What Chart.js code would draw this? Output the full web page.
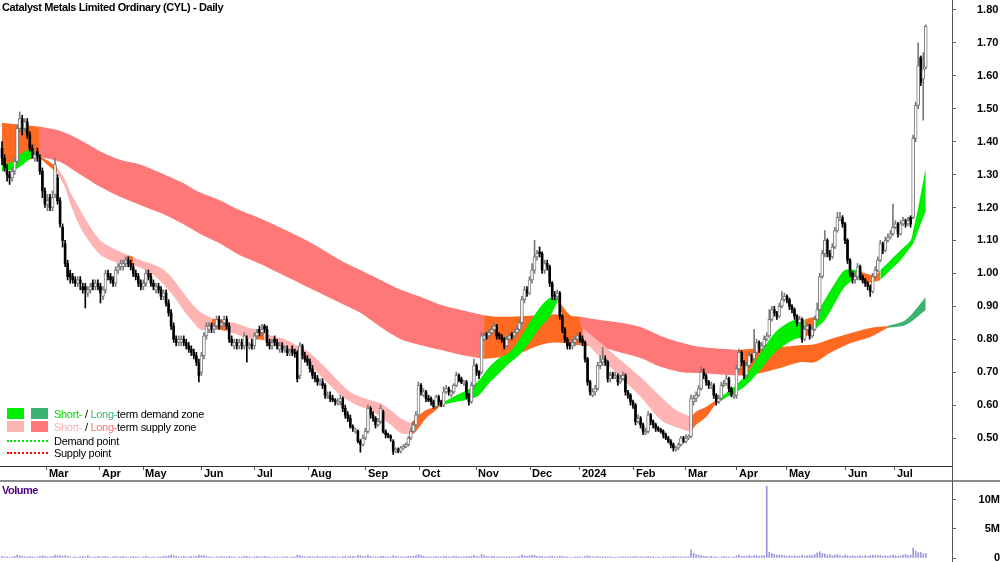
<!DOCTYPE html>
<html><head><meta charset="utf-8">
<script src="https://cdn.jsdelivr.net/npm/chart.js@4.4.0/dist/chart.umd.min.js"></script>
<style>
html,body{margin:0;padding:0;background:#fff;}
#wrap{position:relative;width:1000px;height:562px;overflow:hidden;font-family:"Liberation Sans",Arial,sans-serif;}
canvas{position:absolute;left:0;}
#c1{top:0;}
#c2{top:482px;}
.t{position:absolute;white-space:nowrap;line-height:14px;}
.lg{font-size:11px;letter-spacing:-0.3px;color:#000;}
.bx{position:absolute;width:17px;height:11px;}
.dl{position:absolute;left:7px;width:41px;height:0;}
</style></head>
<body><div id="wrap">
<canvas id="c1" width="1000" height="482"></canvas>
<canvas id="c2" width="1000" height="80"></canvas>
<div class="t" style="left:2px;top:0px;font-weight:bold;font-size:11px;letter-spacing:-0.4px;">Catalyst Metals Limited Ordinary (CYL) - Daily</div>
<div class="bx" style="left:7px;top:408px;background:#00ee00"></div>
<div class="bx" style="left:31px;top:408px;background:#3cb371"></div>
<div class="t lg" style="left:54px;top:407px;"><span style="color:#00dd00">Short-</span> / <span style="color:#3cb371">Long-</span>term demand zone</div>
<div class="bx" style="left:7px;top:421px;background:#ffb4b4"></div>
<div class="bx" style="left:31px;top:421px;background:#ff7878"></div>
<div class="t lg" style="left:54px;top:420px;"><span style="color:#ffb0b0">Short-</span> / <span style="color:#ff7070">Long-</span>term supply zone</div>
<div class="dl" style="top:440px;border-top:2px dotted #00dd00"></div>
<div class="t lg" style="left:54px;top:434px;">Demand point</div>
<div class="dl" style="top:452px;border-top:2px dotted #ff0000"></div>
<div class="t lg" style="left:54px;top:446px;">Supply point</div>
<div class="t" style="left:2px;top:483px;font-weight:bold;font-size:11px;letter-spacing:-0.5px;color:#4b0082;">Volume</div>
</div>
<script>
// ---- price data (cents), one entry per trading day ----
const opens = [
138,135,131,130,129,131,134,144,147,144,
146,142,138,135,137,135,131,125,121,123,
120,124,129,122,114,109,103,100,99,98,
97,98,96,96,94,95,97,96,97,96,
93,95,100,99,98,97,101,102,102,103,
104,103,102,100,99,97,96,97,100,99,
97,95,96,95,93,94,91,88,84,80,
79,79,80,79,78,77,76,75,73,70,
75,81,83,84,83,84,86,84,85,86,
84,80,78,79,78,79,78,80,77.5,78.5,
78,81,83,82,84,83,79,78,80,79,
77,78,76.5,77,75.5,77,76,76,69,78,
75,74,73,71,69,68,66.5,67,66,62.5,
63,62,61.5,60.5,61,62,59,57,56,53.5,
52,52,49,48,50,52,59,57,56,54,
55,58,52,51,50.5,49,46,46.5,46,47,
47.5,48,50,52,54,57,66,63,64,62,
62,61,59.5,62.5,61,60,64,65,63,64,
66,69,68,66.5,67,63,61,66,72,70,
70,80,81.5,81,82,83,84,81.5,81,80,
78,80,81.5,81,82,83,85,92,95,94,
98,101,105,106.5,106,101,103,102,97,93.5,
93,94,87,83,80,78.5,78,79,80,81,
80,79,74,67,63,64,65,72,73,74,
73,68,69.5,68.5,69,67,68,69,64,63,
61,60,55,56,54,51.5,52,57,55,54,
53,52.5,52,51,50,49,48,46.5,47,48,
50,49,50,50.5,61,62,63,65,70,69,
67,65.5,66,63,61,62,66,66.5,68,65,
62.5,63,71,76,73,69,72,75,74,76,
79,77,78,80,81,86,89,88,87,90,
92,93,92,90,89,87,85,86,80,83,
84,81,83,86,89,99,106,110,106,105,
108,113,116.5,117,115,110,104,100,98,99,
102,99,98,97,96,94.5,99,101,104,109,
107,110,111,112,114,115,112,115,116,115,
117,117,141,151,165.5,159,162.5];
const highs = [
140,136,133,131,132,135,145,149,148,147,
147,143,139,137,138,136,132,126,124,124,
125,135,130,123,115,110,104,101,100,99,
99,99,97,97,96,97,98,98,98,97,
96,101,101,100,99,102,103,104,104,105,
105,104,103,101,100,98,98,101,101,100,
98,97,97,96,95,95,92,89,85,81,
81,81,81,80,79,78,77,76,74,76,
82,85,85,85,85,87,87,86,87,87,
85,81,80,80,80,80,82,81,79,80,
82,83,84,84.5,84.5,84,80,80,81,80,
79,79,78,78,77,78,77,76.5,79,78.5,
76,75,74,72,70,69,68,68,66.5,64,
64,63,62,62,63,62.5,60,58,57,54,
53,52.5,49.5,51,53,60,59.5,58,56.5,56,
60,58.5,52.5,51.5,51,49.5,47,47,47.5,48,
48.5,50.5,53,55,58,67,66.5,65,64.5,63,
62.5,61.5,63,63,61.5,65.5,66,65.5,64.5,66.5,
70,69.5,68.5,67.5,67.5,63.5,67,74,72.5,70.5,
82,82,82,83,84,85,84.5,82,81.5,80.5,
81,82,82,83,84,86,93,96,96,99,
103,110,107,108,106.5,104,104,102.5,97.5,94.5,
95,94.5,87.5,83.5,80.5,79,80,81,82,82,
81,79.5,74.5,67.5,65,66,73,75,77.5,75,
73.5,70,70,70,69.5,69,70,69.5,64.5,63.5,
61.5,60.5,57,56.5,54.5,53,58,57.5,55.5,54.5,
53.5,53,52.5,51.5,50.5,49.5,48.5,47.5,48.5,50.5,
50.5,51,51,63,63,64,66,71.5,71,69.5,
67.5,67,66.5,63.5,63,67,67.5,69,68.5,65.5,
64,72,77,76.5,73.5,73,76,75.5,83,80,
79.5,79,81,82,89,90,90,88.5,91,94.5,
94,93.5,92.5,90.5,89.5,87.5,87,86.5,84,85,
84.5,84,87,91,100,107,113,110.5,107,109,
114,118.5,118.5,117.5,115.5,110.5,104.5,100.5,100,103,
102.5,99.5,98.5,97.5,96.5,100,102,105,110,109.5,
111,112,113,121,116,115.5,116,117,116.5,117,
117.5,142,152,170,166,167,175.5];
const lows = [
133,131,128,127,128,130,133,143,142,143,
141,137,135,134,134,130,123,120,119,119,
119,123,121,114,108,102,98,97,97,96,
96,95,94,89.5,93,94,95,95,95,91,
92,94,98,97,96,96,100,101,101,102,
102,101,99,98,96,95,95,96,98,96,
95,94,94,92,92,90,87,83,79,78,
78,78,78,77,76,75,74,72,67,69,
74,80,82,82,82,83,83,83,84,83,
79,78,77,77,77,77,77,73,77,77,
77,80,81,81,82,78,77,77,78,77,
76,76,76,75,75,75,74.5,67,68,74,
73,72,70,68,67,66,66,65,62,62,
61,61,60,60,60,58,56,55,53,52,
51.5,48.5,45.7,47.5,49.5,51.5,56,55,53,53.5,
54.5,51.5,50,50,49,45,45.5,45.5,45.5,46.5,
47,47.5,49.5,51.5,53.5,56.5,63,62.5,61,61,
60,59,59,60,59.5,59.5,63.5,63,62.5,63.5,
65.5,67,66.5,66,62,60,60.5,65.5,69,68,
69.5,79.5,80,80.5,81.5,82.5,80,80,79,77,
77.5,79.5,80,80.5,81.5,82.5,84.5,91,93,93.5,
97,100,104,105,100,100,101,96,92,92,
92,86,82,79,77,77,77,78,79,79,
78,73,66,63,62.5,63,64.5,71,72,72,
67,67,68,68,66,66.5,67.5,63,62,60,
59,54,54.5,53,51,51,51.5,54,53,52,
52,51.5,50,49.5,48.5,47,46,46,46.5,47.5,
48.5,48.5,49.5,50,60,61,62.5,64.5,68,66,
65,65,62,60,60.5,61.5,65.5,66,64,62.5,
62,62,70,72,68,68.5,71.5,73,73.5,75.5,
76,76.5,77.5,79.5,80.5,85.5,87,86,86.5,89.5,
91.5,91,89,88,86,84,84.5,79,79.5,82.5,
80,80.5,82.5,85.5,88.5,98.5,105,105,104,104.5,
107.5,112.5,116,114,109,103,99,97,97,98,
98,97,96,95,93,94,98.5,100.5,103.5,106,
106.5,109.5,110.5,111.5,113.5,111,111.5,114.5,114,114.5,
114,116.5,140,150,157,146.5,162];
const closes = [
135,132,130,129,131,134,144,147,144,146,
142,138,136,136,135,131,125,121,122,120,
123,133,122,115,110,103,99,99,98,97,
98,97,95,95,95,96,96,97,96,94,
95,100,99,98,97,101,102,103,103,104,
103,102,100,99,97,96,97,100,99,97,
96,96,95,93,94,91,88,84,80,79,
80,80,79,78,77,76,75,73,69,75,
81,84,84,83,84,86,84,85,86,84,
80,79,79,78,79,78,81,78,78,78,
81,82,82,83,83,79,78,79,79,78,
78,77,77,76,76,76,75.5,68,78,75,
74,73,71,69,68,67,67,66,63,63,
62,61.5,61,61,62,59,57,56,53.5,53,
52.5,49,48,50,52,59,57,56,54,55,
59,52,51,50.5,50,46,46.5,46,47,47.5,
48,50,52,54,57,66,64,64,62,61.5,
61,59.5,62.5,61,60,64,65,64,64,66,
69,67.5,67,67,63,61,66,72,70,69,
81,81,81,82,83,84,81,81,80,78,
80,81,81,82,83,85,92,95,94,98,
101,105,106,106,101,103,102,97,93,93,
94,87,83,80,78,78,79,80,81,80,
79,74,67,64,64,65,72,73,74,73,
68,69,69,69,67,68,69,64,63,61,
60,55,56,54,52,52,57,55,54,53,
52.5,52,51,50,49,48,47,47,48,50,
49,50,50.5,62,62,63,65,70,69,67,
66,66,63,61,62,66,66.5,68,65,63,
63,71,76,73,69,72,75,74,76,79,
77,78,80,81,86,89,88,87,90,92,
93,92,90,89,87,85,86,80,83,84,
81,83,86,89,99,106,110,106,105,108,
113,117,117,115,110,104,100,98,99,102,
99,98,97,96,94.5,99,101,104,109,107,
110,111,112,114,115,112,115,116,115,116,
115,141,151,163,158,162,175];
// volume, millions of shares
const volumes = [
.3,.2,.2,.1,.2,.3,.5,.4,.3,.2, .2,.3,.2,.1,.2,.3,.4,.3,.2,.2,
.3,.5,.4,.4,.3,.4,.3,.2,.1,.2, .1,.2,.3,.2,.4,.2,.1,.2,.3,.2,
.2,.3,.2,.1,.2,.3,.2,.2,.3,.2, .1,.2,.3,.2,.2,.1,.2,.3,.2,.1,
.2,.1,.2,.2,.3,.3,.4,.5,.4,.3, .2,.2,.3,.2,.2,.3,.2,.3,.5,.4,
.4,.3,.2,.2,.1,.2,.2,.3,.2,.2, .3,.2,.2,.1,.2,.2,.3,.3,.2,.1,
.2,.3,.2,.2,.3,.2,.2,.1,.2,.2, .1,.2,.2,.2,.1,.2,.2,.5,.4,.3,
.2,.2,.3,.2,.2,.3,.2,.2,.3,.2, .2,.3,.2,.2,.1,.3,.3,.2,.3,.3,
.2,.4,.4,.3,.3,.5,.3,.2,.2,.2, .3,.3,.2,.2,.2,.4,.3,.2,.2,.2,
.2,.3,.3,.3,.4,.6,.4,.3,.2,.2, .2,.2,.3,.2,.2,.3,.3,.2,.2,.3,
.3,.2,.2,.2,.3,.3,.3,.4,.3,.2, .6,.4,.3,.2,.3,.3,.2,.2,.2,.2,
.2,.2,.2,.2,.2,.3,.5,.4,.3,.4, .4,.5,.3,.3,.3,.2,.2,.3,.3,.2,
.2,.3,.3,.2,.2,.1,.1,.2,.2,.2, .1,.3,.4,.3,.2,.2,.3,.2,.2,.2,
.2,.2,.1,.1,.2,.2,.2,.2,.2,.2, .2,.3,.2,.2,.2,.2,.3,.2,.2,.1,
.2,.1,.2,.2,.2,.2,.3,.2,.2,.2, .2,.2,.2,1.4,.8,.6,.5,.4,.3,.3,
.2,.3,.2,.2,.1,.2,.3,.2,.2,.1, .2,.4,.5,.3,.3,.3,.4,.3,.4,.4,
.3,.4,.4,12.4,1.0,.8,.6,.5,.5,.5, .4,.3,.4,.3,.4,.3,.3,.5,.3,.4,
.5,.4,.6,.9,1.1,.8,.7,.5,.6,.4, .5,.6,.4,.3,.5,.4,.3,.4,.3,.3,
.4,.3,.4,.3,.4,.5,.4,.4,.5,.3, .4,.3,.4,.5,.4,.3,.4,.5,.6,.4,
.5,1.7,1.2,.9,1.0,.7,.8];

// ---- zone bands (sampled at bar indices) ----
const longIdx = [0,15,23,31,39,47,55,63,71,78,86,94,102,110,118,126,134,142,150,158,166,174,182,191,197,205,213,219,229,237,245,253,261,269,277,292,300,308,316,322,328,336,344,351,358,366];
const longTop = [1.457,1.445,1.433,1.405,1.37,1.344,1.33,1.305,1.277,1.247,1.223,1.192,1.168,1.14,1.11,1.077,1.04,1.01,0.98,0.95,0.928,0.904,0.889,0.873,0.868,0.87,0.873,0.876,0.868,0.858,0.85,0.837,0.81,0.79,0.776,0.767,0.773,0.776,0.782,0.785,0.80,0.818,0.834,0.84,0.858,0.928];
const longBot = [1.325,1.353,1.338,1.30,1.262,1.232,1.207,1.183,1.153,1.122,1.092,1.056,1.03,1.0,0.97,0.94,0.91,0.88,0.837,0.80,0.782,0.767,0.752,0.74,0.745,0.758,0.782,0.79,0.782,0.776,0.76,0.743,0.716,0.70,0.697,0.69,0.697,0.712,0.73,0.73,0.758,0.788,0.807,0.835,0.843,0.889];
const longZones = [[0,15,'mix'],[15,191,'supply'],[191,229,'mix'],[229,292,'supply'],[292,351,'mix'],[351,366,'demand']];

const shortIdx = [0,5,7,9,11,13,15,19,22,25,27,31,35,39,43,47,50,52,55,59,63,67,71,75,79,83,87,89,93,98,101,104,106,112,118,122,126,130,134,138,142,146,150,154,158,162,164,168,172,174,180,185,189,193,197,201,205,209,213,217,220,223,227,230,237,245,253,261,267,273,275,279,282,284,290,294,298,302,306,310,314,318,322,326,330,334,339,342,346,348,352,356,360,361,363,366];
const shortTop = [1.33,1.34,1.36,1.37,1.375,1.37,1.356,1.338,1.32,1.284,1.247,1.192,1.14,1.10,1.08,1.065,1.056,1.05,1.04,1.03,1.016,0.99,0.95,0.91,0.88,0.864,0.858,0.852,0.848,0.834,0.83,0.825,0.813,0.80,0.776,0.758,0.73,0.70,0.667,0.64,0.625,0.615,0.605,0.585,0.56,0.545,0.56,0.585,0.595,0.605,0.63,0.648,0.675,0.715,0.743,0.76,0.80,0.85,0.895,0.925,0.925,0.89,0.858,0.835,0.79,0.737,0.685,0.625,0.585,0.564,0.58,0.595,0.61,0.62,0.655,0.685,0.727,0.776,0.818,0.843,0.858,0.86,0.868,0.92,0.97,1.01,1.01,1.0,0.995,1.01,1.04,1.07,1.10,1.13,1.20,1.32];
const shortBot = [1.31,1.315,1.323,1.335,1.347,1.356,1.35,1.323,1.305,1.26,1.213,1.14,1.092,1.056,1.04,1.03,1.03,1.025,1.016,1.0,0.974,0.94,0.898,0.858,0.828,0.834,0.828,0.824,0.815,0.80,0.80,0.797,0.789,0.773,0.746,0.722,0.69,0.66,0.63,0.61,0.595,0.585,0.564,0.54,0.515,0.51,0.52,0.56,0.585,0.60,0.61,0.618,0.63,0.667,0.697,0.727,0.752,0.79,0.834,0.868,0.913,0.858,0.828,0.80,0.745,0.685,0.625,0.555,0.533,0.518,0.54,0.564,0.595,0.61,0.636,0.655,0.685,0.722,0.758,0.782,0.80,0.805,0.828,0.858,0.91,0.96,0.99,0.97,0.975,0.98,1.01,1.04,1.08,1.09,1.13,1.19];
const shortZones = [[0,15,'demand'],[15,22,'mix'],[22,50,'supply'],[50,52,'mix'],[52,83,'supply'],[83,89,'mix'],[89,101,'supply'],[101,104,'mix'],[104,162,'supply'],[162,174,'mix'],[174,220,'demand'],[220,230,'mix'],[230,273,'supply'],[273,284,'mix'],[284,318,'demand'],[318,322,'mix'],[322,339,'demand'],[339,348,'mix'],[348,366,'demand']];

// ---- axis labels ----
const monthTicks = [17.8,38.8,55.9,79.2,100.2,121.4,144.2,165.6,187.8,209.2,229,250.4,271,291.2,311,334.4,353.8];
const monthLabels = ['Mar','Apr','May','Jun','Jul','Aug','Sep','Oct','Nov','Dec','2024','Feb','Mar','Apr','May','Jun','Jul'];
const priceTicks = [0.5,0.6,0.7,0.8,0.9,1.0,1.1,1.2,1.3,1.4,1.5,1.6,1.7,1.8];
const volTicks = [0,5,10];
const volTickLabels = ['0','5M','10M'];

// ---- styles ----
const ORANGE='#ff6a22', SALMON='#ff7878', PINK='#ffb4b4', GREEN='#00ee00', DKGREEN='#3cb371';
const longColors = {mix:ORANGE, supply:SALMON, demand:DKGREEN};
const shortColors = {mix:ORANGE, supply:PINK, demand:GREEN};
const XMIN=-0.8, XMAX=376.4;

Chart.defaults.font.family = '"Liberation Sans", Arial, sans-serif';
Chart.defaults.font.size = 11;
Chart.defaults.font.weight = 'bold';
Chart.defaults.color = '#000';

function bandSets(idx, top, bot, zones, colors, order){
  const out = [];
  zones.forEach(([a,b,state]) => {
    const ks = idx.map((v,k)=>k).filter(k => idx[k] >= a && idx[k] <= b);
    const base = {type:'line', borderColor:'rgba(0,0,0,0)', borderWidth:0, pointRadius:0, tension:0.3, order};
    out.push(Object.assign({}, base, {data: ks.map(k=>({x:idx[k], y:top[k]})), fill:'+1', backgroundColor: colors[state]}));
    out.push(Object.assign({}, base, {data: ks.map(k=>({x:idx[k], y:bot[k]})), fill:false}));
  });
  return out;
}

const ii = closes.map((_,i)=>i);
const up = ii.map(i => closes[i] >= opens[i]);
const body = i => ({x:i, y:[Math.min(opens[i],closes[i])/100, Math.max(opens[i],closes[i])/100]});
const datasets = [];
datasets.push({type:'bar', data: ii.filter(i=>up[i]).map(body),
  backgroundColor:'#ffffff', borderColor:'#7a7a7a',
  borderWidth:1, borderSkipped:false, barThickness:3, minBarLength:1, grouped:false, order:10});
datasets.push({type:'bar', data: ii.filter(i=>!up[i]).map(body),
  backgroundColor:'#000000', borderWidth:0, barThickness:2, minBarLength:1, grouped:false, order:11});
datasets.push({type:'bar', data: ii.map(i=>({x:i, y:[lows[i]/100, highs[i]/100]})),
  backgroundColor: up.map(u=>u?'#7a7a7a':'#000000'), borderWidth:0, barThickness:1, grouped:false, order:20});
bandSets(shortIdx, shortTop, shortBot, shortZones, shortColors, 30).forEach(d=>datasets.push(d));
bandSets(longIdx, longTop, longBot, longZones, longColors, 40).forEach(d=>datasets.push(d));

const frame1 = {id:'frame1', afterDraw(chart){
  const c = chart.ctx; c.save();
  c.fillStyle = '#8c8c8c'; c.fillRect(0, 480, 1000, 2);
  c.fillStyle = '#555555'; c.fillRect(952, 466, 1, 16);
  c.restore();
}};
const frame2 = {id:'frame2', afterDraw(chart){
  const c = chart.ctx; c.save();
  c.fillStyle = '#555555'; c.fillRect(952, 0, 1, 80);
  c.restore();
}};

new Chart(document.getElementById('c1'), {
  type:'bar',
  data:{datasets},
  options:{
    responsive:false, maintainAspectRatio:false, animation:false, devicePixelRatio:1, events:[],
    layout:{padding:0},
    plugins:{legend:{display:false}, tooltip:{enabled:false}, title:{display:false}},
    scales:{
      x:{type:'linear', min:XMIN, max:XMAX, offset:false,
        afterBuildTicks: s => { s.ticks = monthTicks.map(v=>({value:v})); },
        afterFit: s => { s.height = 16; s.paddingLeft = 0; s.paddingRight = 0; },
        ticks:{autoSkip:false, maxRotation:0, minRotation:0, align:'start', labelOffset:2, padding:-3,
          font:{size:11, weight:'bold'}, color:'#000', callback:(v,i)=>monthLabels[i]},
        grid:{drawOnChartArea:false, drawTicks:true, tickLength:4, offset:false, color:'#555'},
        border:{display:true, color:'#333', width:1}},
      y:{type:'linear', position:'right', min:0.415, max:1.83,
        afterBuildTicks: s => { s.ticks = priceTicks.map(v=>({value:v})); },
        afterFit: s => { s.width = 48; s.paddingTop = 0; s.paddingBottom = 0; },
        ticks:{padding:21, font:{size:11, weight:'bold'}, color:'#000', callback:v=>Number(v).toFixed(2)},
        grid:{drawOnChartArea:false, drawTicks:true, tickLength:4, color:'#666'},
        border:{display:true, color:'#555', width:1}}
    }
  },
  plugins:[frame1]
});

new Chart(document.getElementById('c2'), {
  type:'bar',
  data:{datasets:[{data: ii.map(i=>({x:i, y:volumes[i]})), backgroundColor:'#9999dd', barThickness:1, grouped:false, borderWidth:0}]},
  options:{
    responsive:false, maintainAspectRatio:false, animation:false, devicePixelRatio:1, events:[],
    layout:{padding:{top:0, bottom:4, left:0, right:0}},
    plugins:{legend:{display:false}, tooltip:{enabled:false}},
    scales:{
      x:{type:'linear', min:XMIN, max:XMAX, offset:false, display:false, grid:{offset:false}},
      y:{type:'linear', position:'right', min:0, max:13.1,
        afterBuildTicks: s => { s.ticks = volTicks.map(v=>({value:v})); },
        afterFit: s => { s.width = 48; s.paddingTop = 0; s.paddingBottom = 0; },
        ticks:{padding:21, crossAlign:'far', font:{size:11, weight:'bold'}, color:'#000', callback:(v,i)=>volTickLabels[i]},
        grid:{drawOnChartArea:false, drawTicks:true, tickLength:4, color:'#666'},
        border:{display:true, color:'#555', width:1}}
    }
  },
  plugins:[frame2]
});
</script>
</body></html>
